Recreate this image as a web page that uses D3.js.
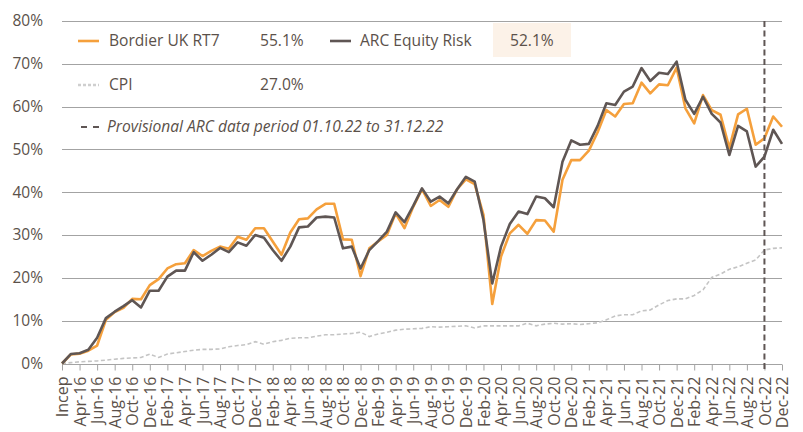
<!DOCTYPE html>
<html>
<head>
<meta charset="utf-8">
<script src="https://cdn.jsdelivr.net/npm/d3@7"></script>
<style>
  body { margin: 0; background: #fff; }
  svg { font-family: "Open Sans", "Noto Sans", sans-serif; }
</style>
</head>
<body>
<svg id="chart" width="803" height="432"></svg>
<script>
// monthly categories, Incep = Feb-16
const categories = ["Incep", "Mar-16", "Apr-16", "May-16", "Jun-16", "Jul-16", "Aug-16", "Sep-16", "Oct-16", "Nov-16", "Dec-16",
  "Jan-17", "Feb-17", "Mar-17", "Apr-17", "May-17", "Jun-17", "Jul-17", "Aug-17", "Sep-17", "Oct-17", "Nov-17", "Dec-17",
  "Jan-18", "Feb-18", "Mar-18", "Apr-18", "May-18", "Jun-18", "Jul-18", "Aug-18", "Sep-18", "Oct-18", "Nov-18", "Dec-18",
  "Jan-19", "Feb-19", "Mar-19", "Apr-19", "May-19", "Jun-19", "Jul-19", "Aug-19", "Sep-19", "Oct-19", "Nov-19", "Dec-19",
  "Jan-20", "Feb-20", "Mar-20", "Apr-20", "May-20", "Jun-20", "Jul-20", "Aug-20", "Sep-20", "Oct-20", "Nov-20", "Dec-20",
  "Jan-21", "Feb-21", "Mar-21", "Apr-21", "May-21", "Jun-21", "Jul-21", "Aug-21", "Sep-21", "Oct-21", "Nov-21", "Dec-21",
  "Jan-22", "Feb-22", "Mar-22", "Apr-22", "May-22", "Jun-22", "Jul-22", "Aug-22", "Sep-22", "Oct-22", "Nov-22", "Dec-22"]

const bordier = [0, 2.1, 2.3, 3.0, 4.2, 10.2, 12.0, 13.0, 15.1, 15.0, 18.3, 19.7, 22.2, 23.2, 23.4, 26.5, 25.1, 26.3, 27.3, 26.8,
  29.6, 28.9, 31.6, 31.6, 28.5, 25.4, 30.6, 33.7, 33.9, 36.0, 37.3, 37.3, 29.0, 28.9, 20.4, 26.9, 28.5, 30.0, 35.1, 31.6,
  36.6, 40.7, 36.8, 38.2, 36.6, 40.7, 43.0, 41.9, 34.7, 13.9, 25.0, 30.4, 32.4, 30.3, 33.5, 33.4, 30.8, 42.9, 47.5, 47.5,
  49.7, 54.0, 59.2, 57.7, 60.6, 60.8, 65.6, 63.1, 65.2, 65.0, 69.1, 59.6, 56.1, 62.7, 59.2, 58.1, 50.3, 58.2, 59.5, 51.1,
  52.6, 57.7, 55.3]

const arc = [0, 2.2, 2.4, 3.2, 6.0, 10.6, 12.1, 13.4, 14.8, 13.1, 17.0, 17.0, 20.3, 21.7, 21.7, 26.0, 24.0, 25.4, 27.0, 26.0,
  28.3, 27.5, 30.0, 29.4, 26.5, 24.0, 27.3, 31.8, 32.0, 34.1, 34.3, 34.1, 26.9, 27.3, 22.2, 26.5, 28.6, 30.8, 35.3, 33.0,
  36.8, 40.9, 37.8, 39.0, 37.4, 40.7, 43.6, 42.5, 33.5, 18.7, 27.3, 32.6, 35.5, 34.9, 39.0, 38.6, 36.5, 47.1, 52.1, 51.1,
  51.3, 55.5, 60.8, 60.4, 63.5, 64.7, 69.0, 66.0, 67.9, 67.6, 70.5, 61.6, 58.3, 62.3, 58.3, 56.3, 48.7, 55.5, 54.2, 46.0,
  48.3, 54.6, 51.3]

const cpi = [0, 0.2, 0.4, 0.5, 0.6, 0.8, 1.0, 1.2, 1.3, 1.4, 2.2, 1.4, 2.2, 2.5, 2.8, 3.1, 3.3, 3.3, 3.4, 3.9,
  4.2, 4.4, 5.1, 4.5, 5.1, 5.4, 5.9, 6.0, 6.0, 6.4, 6.7, 6.7, 6.9, 7.0, 7.3, 6.3, 6.9, 7.3, 7.8, 8.0,
  8.1, 8.2, 8.6, 8.5, 8.6, 8.7, 8.8, 8.3, 8.8, 8.8, 8.8, 8.8, 8.8, 9.4, 8.8, 9.2, 9.4, 9.2, 9.3, 9.1,
  9.3, 9.5, 10.2, 11.1, 11.4, 11.4, 12.3, 12.5, 13.7, 14.7, 15.1, 15.1, 15.9, 17.2, 20.1, 20.9, 22.0, 22.6, 23.4, 24.2,
  26.5, 26.9, 27.0]

const yTicks = [0, 10, 20, 30, 40, 50, 60, 70, 80]
const provisionalFrom = "Oct-22"

const legendItems = [
  { name: "Bordier UK RT7", value: "55.1%", color: "#f5a03c", dash: null },
  { name: "ARC Equity Risk", value: "52.1%", color: "#5f5654", dash: null },
  { name: "CPI", value: "27.0%", color: "#cfcfcf", dash: "3,2" }
]

const textColor = "#5b514a"
const svg = d3.select("#chart")

const x = d3.scalePoint().domain(categories).range([62, 782])
const y = d3.scaleLinear().domain([0, 80]).range([363.5, 21])

// gridlines
svg.append("g")
  .selectAll("line")
  .data(yTicks)
  .join("line")
  .attr("x1", 62).attr("x2", 782)
  .attr("y1", d => Math.round(y(d)) + 0.5)
  .attr("y2", d => Math.round(y(d)) + 0.5)
  .style("stroke", "#a3a3a3")
  .style("stroke-width", 1)

// y labels
svg.append("g")
  .selectAll("text")
  .data(yTicks)
  .join("text")
  .attr("x", 43)
  .attr("y", d => y(d))
  .attr("dy", "0.35em")
  .attr("text-anchor", "end")
  .style("font-size", "15.5px")
  .style("fill", textColor)
  .text(d => d + "%")

// x axis, every second month
const xAxis = d3.axisBottom(x)
  .tickValues(categories.filter((d, i) => i % 2 === 0))
  .tickSize(6)
  .tickPadding(4)

let gx = svg.append("g")
  .attr("transform", `translate(0,${Math.round(y(0)) + 0.5})`)
  .call(xAxis)
gx.select(".domain").remove()
gx.selectAll(".tick line").style("stroke", "#a3a3a3")
gx.selectAll(".tick text")
  .attr("transform", "rotate(-90)")
  .attr("x", -12)
  .attr("y", 0)
  .attr("dy", "0.35em")
  .attr("text-anchor", "end")
  .style("font-family", "\"Open Sans\", sans-serif")
  .style("font-size", "16px")
  .style("fill", textColor)

// highlight behind ARC value
svg.append("rect")
  .attr("x", 493).attr("y", 23)
  .attr("width", 78).attr("height", 34)
  .style("fill", "#fcf2e8")

const line = d3.line()
  .x((d, i) => x(categories[i]))
  .y(d => y(d))

svg.append("path")
  .datum(cpi)
  .attr("d", line)
  .style("fill", "none")
  .style("stroke", "#c4c4c4")
  .style("stroke-width", 1.6)
  .style("stroke-dasharray", "4,2.5")

svg.append("path")
  .datum(bordier)
  .attr("d", line)
  .style("fill", "none")
  .style("stroke", "#f5a03c")
  .style("stroke-width", 2.6)
  .style("stroke-linejoin", "round")

svg.append("path")
  .datum(arc)
  .attr("d", line)
  .style("fill", "none")
  .style("stroke", "#5f5654")
  .style("stroke-width", 2.6)
  .style("stroke-linejoin", "round")

// provisional period marker
svg.append("line")
  .attr("x1", x(provisionalFrom)).attr("x2", x(provisionalFrom))
  .attr("y1", 21).attr("y2", y(0) + 6)
  .style("stroke", "#5f5654")
  .style("stroke-width", 2)
  .style("stroke-dasharray", "6,3.5")

// legend
const legendPos = [
  { lx: 78, tx: 109, vx: 260, cy: 41 },
  { lx: 330, tx: 360, vx: 510, cy: 41 },
  { lx: 78, tx: 109, vx: 260, cy: 85 }
]
legendItems.forEach((item, i) => {
  let p = legendPos[i]
  svg.append("line")
    .attr("x1", p.lx).attr("x2", p.lx + 21)
    .attr("y1", p.cy).attr("y2", p.cy)
    .style("stroke", item.color)
    .style("stroke-width", 2.6)
    .style("stroke-dasharray", item.dash)
  svg.append("text")
    .attr("x", p.tx).attr("y", p.cy).attr("dy", "0.35em")
    .style("font-size", "15.6px")
    .style("fill", textColor)
    .text(item.name)
  svg.append("text")
    .attr("x", p.vx).attr("y", p.cy).attr("dy", "0.35em")
    .style("font-size", "15.6px")
    .style("fill", textColor)
    .text(item.value)
})

svg.append("line")
  .attr("x1", 81).attr("x2", 100)
  .attr("y1", 127).attr("y2", 127)
  .style("stroke", "#5f5654")
  .style("stroke-width", 2)
  .style("stroke-dasharray", "6,6")
svg.append("text")
  .attr("x", 107).attr("y", 127).attr("dy", "0.35em")
  .style("font-size", "15.6px")
  .style("font-style", "italic")
  .style("fill", textColor)
  .text("Provisional ARC data period 01.10.22 to 31.12.22")
</script>
</body>
</html>
